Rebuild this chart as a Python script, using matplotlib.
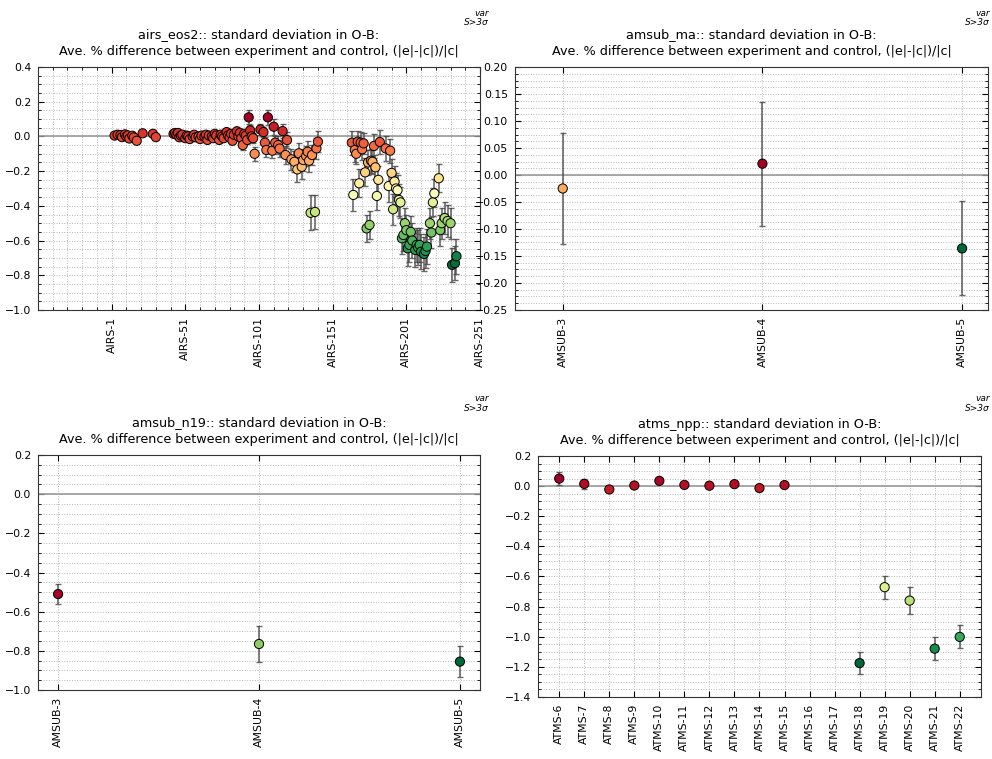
import numpy as np
import matplotlib
matplotlib.use('Agg')
import matplotlib.pyplot as plt
from matplotlib.ticker import MultipleLocator

# airs_eos2 channel positions (0 = AIRS-1), mean % diff and error
airs_idx = [2, 4, 6, 7, 9, 10, 11, 12, 14, 15, 17, 21, 28, 30,
            42, 43, 44, 45, 46, 47, 48, 50, 51, 52, 53, 55, 56, 57, 59, 60,
            61, 63, 64, 65, 66, 68, 69, 70, 71, 73, 74, 75, 76, 78, 79, 80,
            81, 82, 83, 85, 86, 87, 88, 89, 90, 91, 92, 93, 94, 95, 96, 97,
            101, 103, 104, 105, 106, 109, 110, 111, 113, 114, 116, 118, 119,
            122, 124, 126, 127, 129, 130, 132, 133, 134, 135, 136, 138, 139, 140,
            163, 164, 165, 166, 167, 168, 169, 170, 171, 172, 173, 174, 175,
            176, 177, 178, 179, 180, 181, 182, 186, 188, 189, 190, 191, 192,
            193, 194, 195, 196,
            197, 198, 199, 200, 201, 202, 203, 204, 206, 207, 208, 209, 210,
            212, 213, 214, 216, 217, 218, 219, 222, 223, 224, 226, 228, 230,
            231, 233, 234]
airs_val = [0.005, 0.01, 0.008, -0.004, 0.012, 0.0, 0.006, -0.012, 0.004, -0.006, -0.025, 0.018, 0.015, -0.004,
            0.015, 0.02, 0.01, 0.02, -0.005, 0.005, 0.01, -0.01, 0.005, 0.0, -0.015, 0.0, 0.01, -0.005, 0.0, -0.015,
            0.005, 0.0, 0.01, -0.02, 0.005, 0.0, -0.01, 0.015, 0.005, -0.02, 0.01, 0.0, -0.01, 0.025, 0.005, -0.005,
            0.015, -0.025, 0.01, 0.03, 0.0, 0.02, -0.01, -0.05, 0.015, 0.005, -0.02, 0.11, 0.035, 0.0, -0.01, -0.10,
            0.04, 0.025, -0.036, -0.078, 0.11, -0.082, 0.056, -0.036, -0.05, -0.07, 0.031, -0.107, -0.021,
            -0.132, -0.146, -0.19, -0.097, -0.175, -0.136, -0.113, -0.088, -0.14, -0.44, -0.107, -0.435, -0.069, -0.03,
            -0.036, -0.337, -0.078, -0.10, -0.03, -0.27, -0.036, -0.074, -0.04, -0.207, -0.53, -0.15, -0.51,
            -0.14, -0.146, -0.055, -0.178, -0.343, -0.25, -0.032, -0.069, -0.286, -0.082, -0.21, -0.42, -0.26,
            -0.30, -0.31, -0.366, -0.38,
            -0.587, -0.568, -0.50, -0.54, -0.645, -0.625, -0.55, -0.60, -0.654, -0.625, -0.64, -0.625, -0.664,
            -0.677, -0.66, -0.635, -0.50, -0.554, -0.38, -0.328, -0.241, -0.54, -0.50, -0.47, -0.487, -0.50,
            -0.74, -0.73, -0.69]
airs_err = [0.01, 0.01, 0.01, 0.01, 0.01, 0.01, 0.01, 0.012, 0.01, 0.01, 0.012, 0.012, 0.012, 0.012,
            0.012, 0.012, 0.012, 0.012, 0.012, 0.012, 0.012, 0.012, 0.012, 0.012, 0.012, 0.012, 0.012, 0.012, 0.012, 0.012,
            0.012, 0.012, 0.012, 0.015, 0.012, 0.012, 0.012, 0.015, 0.012, 0.015, 0.012, 0.012, 0.015, 0.015, 0.015, 0.015,
            0.015, 0.02, 0.015, 0.02, 0.02, 0.02, 0.02, 0.03, 0.02, 0.02, 0.025, 0.04, 0.03, 0.03, 0.03, 0.04,
            0.03, 0.03, 0.035, 0.04, 0.045, 0.045, 0.045, 0.04, 0.05, 0.05, 0.04, 0.05, 0.045,
            0.06, 0.06, 0.07, 0.06, 0.07, 0.065, 0.06, 0.06, 0.065, 0.1, 0.06, 0.1, 0.06, 0.06,
            0.07, 0.09, 0.07, 0.06, 0.06, 0.08, 0.06, 0.06, 0.06, 0.08, 0.08, 0.07, 0.08,
            0.07, 0.07, 0.07, 0.07, 0.08, 0.08, 0.07, 0.07, 0.09, 0.07, 0.08, 0.09, 0.09,
            0.09, 0.09, 0.09, 0.09,
            0.09, 0.09, 0.09, 0.09, 0.1, 0.1, 0.09, 0.1, 0.1, 0.1, 0.1, 0.1, 0.1,
            0.1, 0.1, 0.1, 0.09, 0.09, 0.08, 0.08, 0.08, 0.09, 0.09, 0.09, 0.09, 0.09,
            0.1, 0.1, 0.1]
airs_ticks = [0, 50, 100, 150, 200, 250]
airs_labels = ['AIRS-1', 'AIRS-51', 'AIRS-101', 'AIRS-151', 'AIRS-201', 'AIRS-251']

# amsub_ma
ma_labels = ['AMSUB-3', 'AMSUB-4', 'AMSUB-5']
ma_val = [-0.025, 0.021, -0.136]
ma_err = [0.103, 0.115, 0.087]

# amsub_n19
n19_labels = ['AMSUB-3', 'AMSUB-4', 'AMSUB-5']
n19_val = [-0.51, -0.765, -0.855]
n19_err = [0.05, 0.09, 0.08]

# atms_npp (ATMS-16 and ATMS-17 have no data)
atms_labels = ['ATMS-%d' % c for c in range(6, 23)]
atms_val = [0.05, 0.015, -0.022, 0.004, 0.035, 0.008, 0.003, 0.013, -0.013, 0.007,
            np.nan, np.nan, -1.175, -0.671, -0.760, -1.079, -1.001]
atms_err = [0.045, 0.035, 0.01, 0.01, 0.012, 0.01, 0.01, 0.01, 0.01, 0.012,
            np.nan, np.nan, 0.072, 0.077, 0.088, 0.078, 0.076]

SUBTITLE = 'Ave. % difference between experiment and control, (|e|-|c|)/|c|'

fig = plt.figure(figsize=(9.92, 7.59), dpi=100)


def panel(rect, name, x, val, err, ylim, ymaj, ymin, xlim, tag_x, tag_y):
    ax = fig.add_axes(rect)
    x = np.asarray(x, dtype=float)
    val = np.asarray(val, dtype=float)
    err = np.asarray(err, dtype=float)
    ok = ~np.isnan(val)
    ax.axhline(0, color='#999999', lw=1.2, zorder=1)
    ax.errorbar(x[ok], val[ok], yerr=err[ok], fmt='none', ecolor='#444444',
                elinewidth=1.2, capsize=2.5, alpha=0.8, zorder=2)
    ax.scatter(x[ok], val[ok], c=val[ok], cmap='RdYlGn_r', s=44,
               edgecolors='k', linewidths=0.7, zorder=3)
    ax.set_xlim(xlim)
    ax.set_ylim(ylim)
    ax.yaxis.set_major_locator(MultipleLocator(ymaj))
    ax.yaxis.set_minor_locator(MultipleLocator(ymin))
    ax.grid(which='both', linestyle=':', color='#b8b8b8', lw=0.7)
    ax.set_axisbelow(True)
    ax.tick_params(which='both', direction='in', top=True, right=True,
                   labelsize=7.8)
    ax.tick_params(which='major', length=4, pad=5)
    ax.tick_params(which='minor', length=2)
    for s in ax.spines.values():
        s.set_color('#333333')
    ax.set_title(name + ':: standard deviation in O-B:\n' + SUBTITLE,
                 fontsize=9.15, pad=9, linespacing=1.3)
    fig.text(tag_x, tag_y, 'var\nS>3σ', ha='right', va='bottom',
             style='italic', fontsize=6.5, linespacing=1.1)
    return ax


ax1 = panel([0.0383, 0.5916, 0.4456, 0.3201], 'airs_eos2', airs_idx, airs_val,
            airs_err, (-1.0, 0.4), 0.2, 0.05, (-50, 250), 0.493, 0.964)
ax1.set_xticks(airs_ticks)
ax1.set_xticklabels(airs_labels, rotation=90)
ax1.xaxis.set_minor_locator(MultipleLocator(10))

ax2 = panel([0.519, 0.5916, 0.477, 0.3201], 'amsub_ma', range(3), ma_val,
            ma_err, (-0.25, 0.20), 0.05, 0.0125, (-0.24, 2.13), 0.998, 0.964)
ax2.set_xticks(range(3))
ax2.set_xticklabels(ma_labels, rotation=90)
ax2.set_zorder(2)

ax3 = panel([0.0383, 0.0909, 0.4456, 0.3096], 'amsub_n19', range(3), n19_val,
            n19_err, (-1.0, 0.2), 0.2, 0.05, (-0.1, 2.1), 0.493, 0.456)
ax3.set_xticks(range(3))
ax3.set_xticklabels(n19_labels, rotation=90)

ax4 = panel([0.5423, 0.0817, 0.4466, 0.3175], 'atms_npp', range(len(atms_labels)),
            atms_val, atms_err, (-1.4, 0.2), 0.2, 0.05, (-0.85, 16.85), 0.998, 0.456)
ax4.set_xticks(range(len(atms_labels)))
ax4.set_xticklabels(atms_labels, rotation=90)

fig.savefig('out.png', dpi=100)
